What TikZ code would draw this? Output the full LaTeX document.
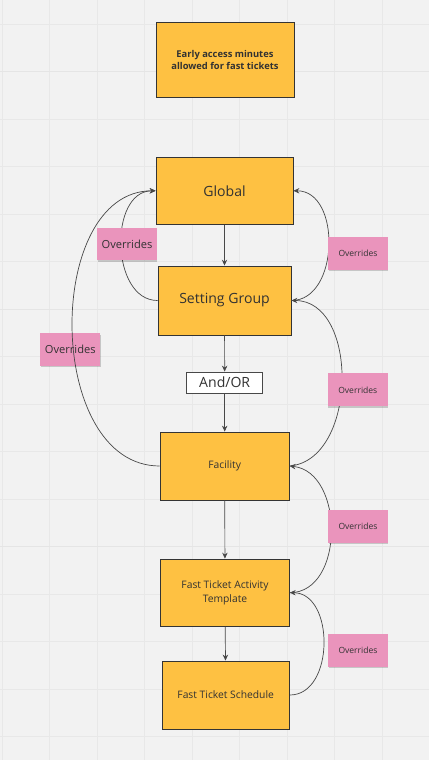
\documentclass[tikz,border=0pt]{standalone}
\usepackage{fontspec}
\setmainfont{Open Sans}
\usetikzlibrary{arrows.meta,shadows}
\definecolor{canvas}{RGB}{242,242,242}
\definecolor{gridtone}{RGB}{232,232,232}
\definecolor{gridmajor}{RGB}{229,229,229}
\definecolor{amber}{RGB}{254,193,66}
\definecolor{pinknote}{RGB}{234,148,188}
\definecolor{edgegray}{RGB}{52,52,52}
\definecolor{linegray}{RGB}{72,72,72}
\definecolor{inkgray}{RGB}{50,50,50}
\tikzset{
  gridline/.style={draw=gridtone,line width=0.6pt},
  gridbold/.style={draw=gridmajor,line width=0.8pt},
  card/.style={rectangle,draw=edgegray,line width=0.8pt,fill=amber,align=center,
              text=inkgray,inner sep=2pt},
  sticky/.style={rectangle,fill=pinknote,align=center,text=inkgray,inner sep=1pt,
              minimum width=1.79cm,minimum height=0.98cm,
              drop shadow={shadow xshift=0.4pt,shadow yshift=-1.2pt,opacity=0.18,fill=black}},
  choice/.style={rectangle,draw=linegray,line width=0.8pt,fill=white,align=center,
              text=inkgray,minimum width=2.28cm,minimum height=0.63cm,inner sep=1pt,
              font=\fontsize{12}{14}\selectfont},
  flow/.style={-{Stealth[length=5pt,width=4.6pt]},draw=linegray,line width=0.6pt},
  override/.style={-{Stealth[length=5pt,width=4.6pt]},draw=linegray,line width=0.6pt},
}

\begin{document}
\begin{tikzpicture}[x=0.03cm,y=-0.03cm]
  % canvas and board grid
  \fill[canvas] (0,0) rectangle (429,760);
  \useasboundingbox (0,0) rectangle (429,760);
  \foreach \gx in {0,...,8} \draw[gridline] ({2+47.5*\gx},0) -- ({2+47.5*\gx},760);
  \foreach \gy in {0,...,15} \draw[gridline] (0,{24+47.5*\gy}) -- (429,{24+47.5*\gy});
  \foreach \gy in {1,6,11} \draw[gridbold] (0,{24+47.5*\gy}) -- (429,{24+47.5*\gy});

  % hierarchy
  \node[card,minimum width=4.14cm,minimum height=2.25cm,
        font=\bfseries\fontsize{8}{10.5}\selectfont] (early) at (225,59.7) {Early access minutes\\allowed for fast tickets};
  \node[card,minimum width=4.11cm,minimum height=2.01cm,font=\fontsize{12}{14}\selectfont] (global) at (224.5,190.8) {Global};
  \node[card,minimum width=3.99cm,minimum height=2.07cm,font=\fontsize{12}{14}\selectfont] (group) at (224.5,300.5) {Setting Group};
  \node[choice] (andor) at (224.7,382.5) {And/OR};
  \node[card,minimum width=3.87cm,minimum height=2.04cm,font=\fontsize{8.8}{11.7}\selectfont] (facility) at (224.7,466) {Facility};
  \node[card,minimum width=3.86cm,minimum height=2.02cm,font=\fontsize{8.8}{11.7}\selectfont] (template) at (225,592.7) {Fast Ticket Activity\\Template};
  \node[card,minimum width=3.82cm,minimum height=2.04cm,font=\fontsize{8.8}{11.7}\selectfont] (schedule) at (225.7,695) {Fast Ticket Schedule};

  \draw[flow] (global) -- (group);
  \draw[flow] (group) -- (andor);
  \draw[flow] (andor) -- (facility);
  \draw[flow] (facility) -- (template);
  \draw[flow] (template) -- (schedule);

  % override arcs
  \draw[override] (group.west) .. controls +(-47,0) and +(-47,0) .. (global.west);
  \draw[override] (group.east) .. controls +(48,0) and +(48,0) .. (global.east);
  \draw[override] (facility.east) .. controls +(68,-6) and +(68,0) .. (group.east);
  \draw[override] (template.east) .. controls +(55,0) and +(55,6) .. (facility.east);
  \draw[override] (schedule.east) .. controls +(45,0) and +(45,0) .. (template.east);

  % sticky notes
  \node[sticky,font=\fontsize{9.5}{11}\selectfont] (noteA) at (127,244) {Overrides};
  \node[sticky,font=\fontsize{9.5}{11}\selectfont] (noteB) at (70.3,349.5) {Overrides};
  \node[sticky,font=\fontsize{7.3}{9}\selectfont] (noteC) at (358,253.3) {Overrides};
  \node[sticky,font=\fontsize{7.3}{9}\selectfont] (noteD) at (357.8,389.8) {Overrides};
  \node[sticky,font=\fontsize{7.3}{9}\selectfont] (noteE) at (358,526.7) {Overrides};
  \node[sticky,font=\fontsize{7.3}{9}\selectfont] (noteF) at (358,650.5) {Overrides};

  \draw[override] (facility.west) .. controls +(-115,0) and +(-112,0) .. (global.west);
\end{tikzpicture}
\end{document}
